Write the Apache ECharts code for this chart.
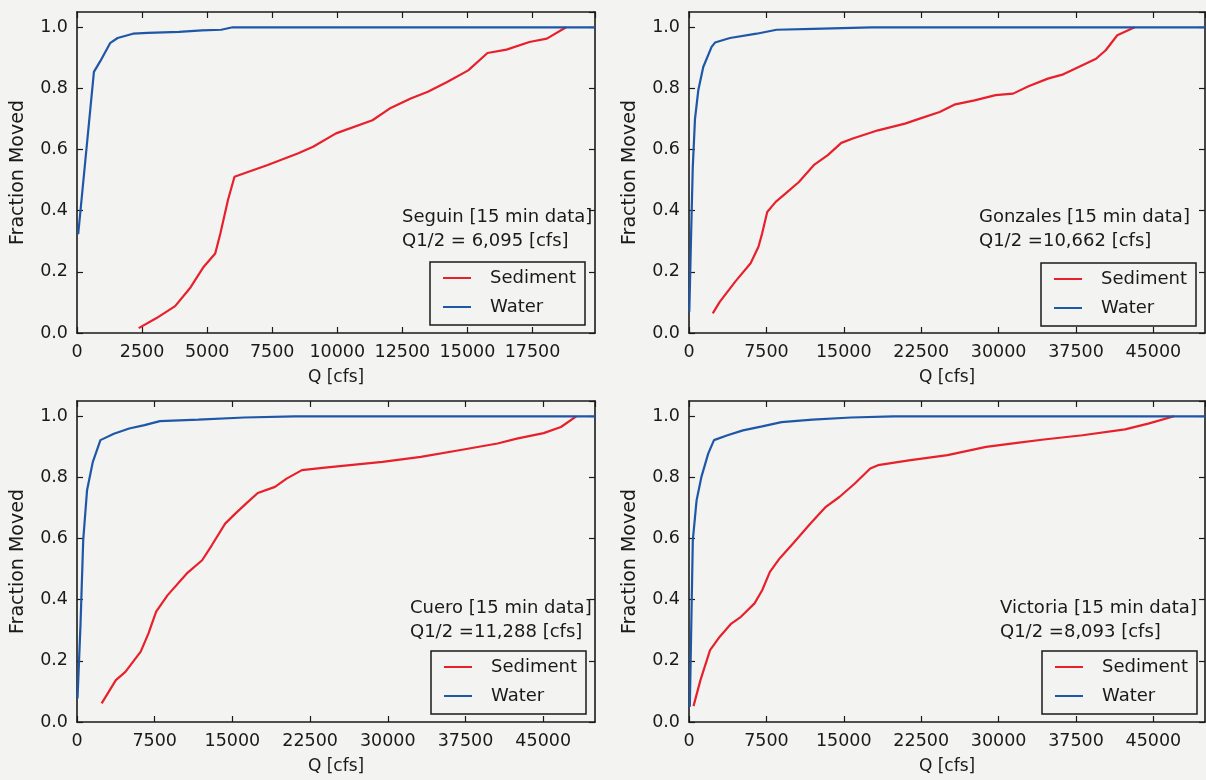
<!DOCTYPE html>
<html>
<head>
<meta charset="utf-8">
<style>
  html, body { margin: 0; padding: 0; background: #f3f3f1; }
  #chart { width: 1206px; height: 780px; }
</style>
<script src="https://cdn.jsdelivr.net/npm/echarts@6/dist/echarts.min.js"></script>
</head>
<body>
<div id="chart"></div>
<script>
// [Q cfs, fraction moved]
const seguinSediment = [[2370, 0.016], [3040, 0.048], [3770, 0.088], [4360, 0.149], [4870, 0.217], [5310, 0.26], [5510, 0.326], [5800, 0.435], [6050, 0.511], [7300, 0.549], [8480, 0.587], [9070, 0.609], [9950, 0.653], [11350, 0.696], [12010, 0.734], [12820, 0.767], [13480, 0.789], [14220, 0.821], [15030, 0.859], [15770, 0.916], [16500, 0.927], [17380, 0.952], [18050, 0.963], [18790, 1.0]];
const seguinWater = [[46, 0.323], [650, 0.854], [900, 0.89], [1270, 0.948], [1560, 0.965], [2150, 0.979], [2720, 0.982], [3920, 0.985], [4800, 0.99], [5540, 0.992], [5980, 1.0], [19900, 1.0]];

const gonzalesSediment = [[2300, 0.064], [2980, 0.102], [4480, 0.168], [5970, 0.228], [6730, 0.282], [7090, 0.326], [7580, 0.396], [8400, 0.429], [9340, 0.456], [10650, 0.494], [12150, 0.551], [13450, 0.582], [14760, 0.622], [15870, 0.636], [18320, 0.663], [20930, 0.685], [22430, 0.702], [24290, 0.723], [25800, 0.748], [27670, 0.761], [29710, 0.778], [31400, 0.783], [32900, 0.807], [34770, 0.832], [36270, 0.846], [37760, 0.87], [39440, 0.897], [40380, 0.925], [41500, 0.974], [43190, 1.0]];
const gonzalesWater = [[30, 0.07], [190, 0.3], [363, 0.54], [580, 0.70], [900, 0.794], [1380, 0.87], [2190, 0.936], [2520, 0.95], [3970, 0.965], [6550, 0.979], [8490, 0.992], [12000, 0.995], [17700, 1.0], [50000, 1.0]];

const cueroSediment = [[2380, 0.061], [3750, 0.137], [4670, 0.164], [6150, 0.23], [6900, 0.29], [7640, 0.361], [8750, 0.415], [10600, 0.486], [12080, 0.529], [13010, 0.578], [14300, 0.649], [15230, 0.68], [16340, 0.715], [17450, 0.749], [19110, 0.769], [20230, 0.796], [21710, 0.824], [23930, 0.832], [29490, 0.851], [33190, 0.867], [36890, 0.889], [40590, 0.911], [42450, 0.927], [45040, 0.945], [46710, 0.965], [48190, 1.0]];
const cueroWater = [[50, 0.077], [340, 0.32], [600, 0.595], [970, 0.758], [1530, 0.851], [2260, 0.922], [3560, 0.943], [5040, 0.96], [6520, 0.971], [8000, 0.984], [11710, 0.989], [16150, 0.996], [21000, 1.0], [50000, 1.0]];

const victoriaSediment = [[435, 0.052], [1110, 0.137], [2040, 0.235], [2980, 0.279], [4100, 0.322], [5030, 0.344], [6350, 0.388], [7090, 0.431], [7840, 0.491], [8780, 0.535], [10080, 0.584], [11770, 0.649], [13260, 0.704], [14570, 0.736], [16070, 0.78], [17560, 0.829], [18320, 0.84], [21310, 0.856], [25050, 0.873], [28790, 0.9], [31780, 0.913], [34390, 0.924], [38130, 0.938], [42250, 0.957], [44500, 0.976], [47000, 1.0]];
const victoriaWater = [[80, 0.05], [370, 0.595], [735, 0.725], [1190, 0.80], [1860, 0.878], [2420, 0.922], [3730, 0.938], [5230, 0.954], [7090, 0.967], [8960, 0.981], [11960, 0.989], [15700, 0.996], [19810, 1.0], [50000, 1.0]];

const stationNotes = [
  ['Seguin [15 min data]', 'Q1/2 = 6,095 [cfs]'],
  ['Gonzales [15 min data]', 'Q1/2 =10,662 [cfs]'],
  ['Cuero [15 min data]', 'Q1/2 =11,288 [cfs]'],
  ['Victoria [15 min data]', 'Q1/2 =8,093 [cfs]']
];
const seriesNames = ['Sediment', 'Water'];
const xMax = [19900, 50000, 50000, 50000];
const xStep = [2500, 7500, 7500, 7500];
const yTicks = [0, 0.2, 0.4, 0.6, 0.8, 1.0];

(function () {
  const RED = '#e8202c';
  const BLUE = '#1f57a8';
  const INK = '#1a1a1a';
  const FONT = 'DejaVu Sans';

  const panels = [
    { left: 77, top: 12, width: 518, height: 321, note: [402, 205], legend: [430, 262] },
    { left: 689, top: 12, width: 516, height: 321, note: [979, 205], legend: [1041, 263] },
    { left: 77, top: 401, width: 518, height: 321, note: [410, 596], legend: [431, 651] },
    { left: 689, top: 401, width: 516, height: 321, note: [1000, 596], legend: [1042, 651] }
  ];
  const data = [
    [seguinSediment, seguinWater],
    [gonzalesSediment, gonzalesWater],
    [cueroSediment, cueroWater],
    [victoriaSediment, victoriaWater]
  ];

  const grid = [], xAxis = [], yAxis = [], series = [], legend = [], graphic = [];
  const tick = { show: true, inside: true, length: 6, lineStyle: { color: INK, width: 1.2 } };
  const line = { show: true, onZero: false, lineStyle: { color: INK, width: 1.6 } };

  panels.forEach((p, i) => {
    grid.push({ left: p.left, top: p.top, width: p.width, height: p.height, show: false });
    const step = xStep[i];
    const xBase = { type: 'value', gridIndex: i, min: 0, max: xMax[i], interval: step, splitLine: { show: false }, axisLine: line, axisTick: tick };
    xAxis.push(Object.assign({}, xBase, {
      position: 'bottom',
      name: 'Q [cfs]', nameLocation: 'middle', nameGap: 36,
      nameTextStyle: { color: INK, fontFamily: FONT, fontSize: 17 },
      axisLabel: { color: INK, fontFamily: FONT, fontSize: 17.5, margin: 10, showMaxLabel: false,
        formatter: v => (v % step === 0 ? String(v) : '') }
    }));
    xAxis.push(Object.assign({}, xBase, { position: 'top', axisLabel: { show: false } }));
    const yBase = { type: 'value', gridIndex: i, min: 0, max: 1.05, interval: 0.2, splitLine: { show: false }, axisLine: line, axisTick: tick };
    yAxis.push(Object.assign({}, yBase, {
      position: 'left',
      name: 'Fraction Moved', nameLocation: 'middle', nameGap: 49,
      nameTextStyle: { color: INK, fontFamily: FONT, fontSize: 19 },
      axisLabel: { color: INK, fontFamily: FONT, fontSize: 17.5, margin: 9, showMaxLabel: false,
        formatter: v => (yTicks.some(t => Math.abs(t - v) < 1e-6) ? v.toFixed(1) : '') }
    }));
    yAxis.push(Object.assign({}, yBase, { position: 'right', axisLabel: { show: false } }));

    const colors = [RED, BLUE];
    data[i].forEach((d, k) => {
      series.push({
        name: seriesNames[k], type: 'line', xAxisIndex: i * 2, yAxisIndex: i * 2,
        data: d, showSymbol: false, symbol: 'none', animation: false, z: 2 + k,
        lineStyle: { color: colors[k], width: 2.2 }, itemStyle: { color: colors[k] }
      });
    });

    legend.push({
      data: seriesNames, orient: 'vertical', left: p.legend[0], top: p.legend[1],
      icon: 'rect', itemWidth: 28, itemHeight: 2, itemGap: 9,
      padding: [6, 9, 8, 13], borderColor: INK, borderWidth: 1.5, backgroundColor: '#f3f3f1',
      selectedMode: false,
      textStyle: { color: INK, fontFamily: FONT, fontSize: 18, lineHeight: 20, padding: [0, 0, 0, 14] }
    });

    graphic.push({
      type: 'text', left: p.note[0], top: p.note[1], z: 10,
      style: { text: stationNotes[i].join('\n'), fill: INK, font: '18px "DejaVu Sans"', lineHeight: 24 }
    });
  });

  const chart = echarts.init(document.getElementById('chart'), null, { renderer: 'canvas' });
  chart.setOption({
    backgroundColor: '#f3f3f1',
    animation: false,
    grid, xAxis, yAxis, series, legend, graphic
  });
})();
</script>
</body>
</html>
